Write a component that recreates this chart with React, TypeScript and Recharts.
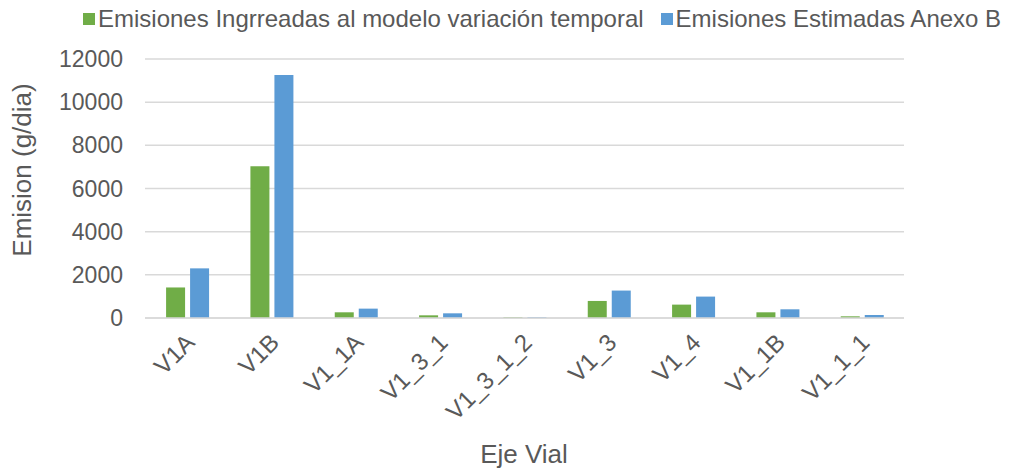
import React from 'react';
import {
  BarChart,
  Bar,
  XAxis,
  YAxis,
  CartesianGrid,
  Legend,
  Label,
} from 'recharts';

const categories: string[] = ['V1A', 'V1B', 'V1_1A', 'V1_3_1', 'V1_3_1_2', 'V1_3', 'V1_4', 'V1_1B', 'V1_1_1'];
const ingresadas: number[] = [1415, 7030, 264, 124, 30, 790, 620, 264, 78];
const estimadas: number[] = [2300, 11255, 434, 217, 32, 1271, 992, 403, 140];
const yTicks: number[] = [0, 2000, 4000, 6000, 8000, 10000, 12000];

const SERIES_A = 'Emisiones Ingrreadas al modelo variación temporal';
const SERIES_B = 'Emisiones Estimadas Anexo B';

const GREEN = '#70ad47';
const BLUE = '#5b9bd5';
const TEXT = '#595959';
const FONT = '"Liberation Sans", Arial, sans-serif';

const data = categories.map((name, i) => ({
  name,
  a: ingresadas[i],
  b: estimadas[i],
}));

const XTick = (props: any) => {
  const { x, y, payload } = props;
  return (
    <g transform={`translate(${x + 9},${y + 18})`}>
      <text
        x={0}
        y={0}
        textAnchor="end"
        transform="rotate(-45)"
        fontSize={24}
        fill={TEXT}
        fontFamily={FONT}
      >
        {payload.value}
      </text>
    </g>
  );
};

// axis titles sit at fixed spots, like the Excel original
const YTitle = () => (
  <text
    x={31}
    y={170}
    transform="rotate(-90 31 170)"
    textAnchor="middle"
    fontSize={26}
    fill={TEXT}
    fontFamily={FONT}
  >
    Emision (g/dia)
  </text>
);

const XTitle = () => (
  <text x={524} y={463} textAnchor="middle" fontSize={26} fill={TEXT} fontFamily={FONT}>
    Eje Vial
  </text>
);

const LegendBox = () => (
  <div
    style={{
      display: 'flex',
      alignItems: 'center',
      fontFamily: FONT,
      fontSize: 24,
      color: TEXT,
      paddingLeft: 83,
      whiteSpace: 'nowrap',
    }}
  >
    <span style={{ width: 12, height: 12, background: GREEN, marginRight: 3 }} />
    <span style={{ marginRight: 17 }}>{SERIES_A}</span>
    <span style={{ width: 12, height: 12, background: BLUE, marginRight: 3 }} />
    <span>{SERIES_B}</span>
  </div>
);

export default function App() {
  return (
    <div style={{ position: 'absolute', left: 0, top: 0, background: '#fff' }}>
      <style>{'body{margin:0;}'}</style>
      <BarChart
        width={1014}
        height={469}
        data={data}
        margin={{ top: 59, right: 110, left: 0, bottom: 0 }}
        barCategoryGap="25%"
        barGap={5}
      >
        <CartesianGrid vertical={false} stroke="#d9d9d9" strokeWidth={1.5} />
        <XAxis
          dataKey="name"
          height={151}
          interval={0}
          tickLine={false}
          axisLine={{ stroke: '#d9d9d9', strokeWidth: 1.5 }}
          tick={<XTick />}
        >
          <Label content={XTitle} />
        </XAxis>
        <YAxis
          width={145}
          domain={[0, 12000]}
          ticks={yTicks}
          axisLine={false}
          tickLine={false}
          tickSize={0}
          tickMargin={22}
          tick={{ fontSize: 23, fill: TEXT, fontFamily: FONT }}
        >
          <Label content={YTitle} />
        </YAxis>
        <Legend
          verticalAlign="middle"
          align="center"
          layout="horizontal"
          content={LegendBox}
          wrapperStyle={{ top: 5, left: 0, width: 1014 }}
        />
        <Bar dataKey="a" name={SERIES_A} fill={GREEN} isAnimationActive={false} />
        <Bar dataKey="b" name={SERIES_B} fill={BLUE} isAnimationActive={false} />
      </BarChart>
    </div>
  );
}
